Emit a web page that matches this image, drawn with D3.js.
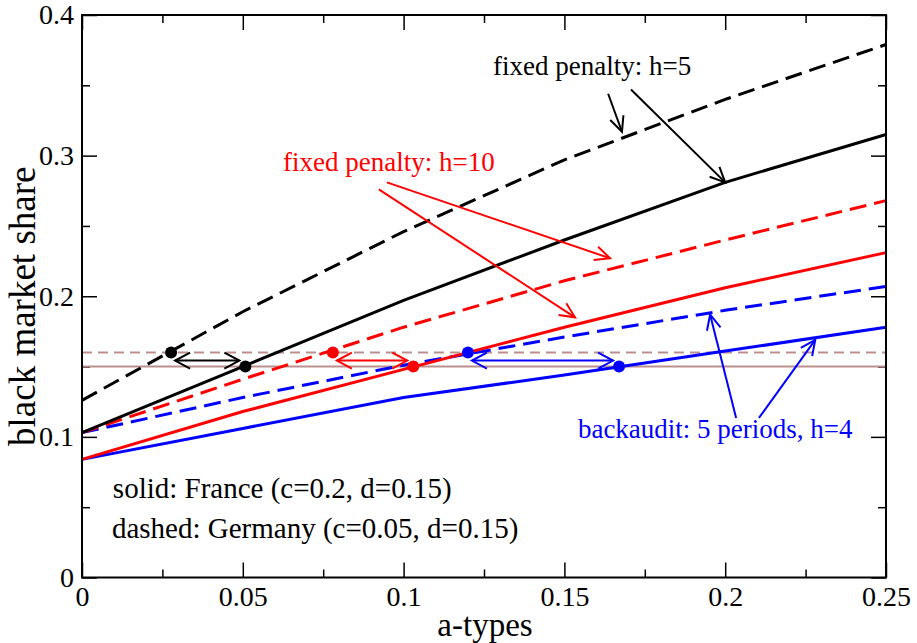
<!DOCTYPE html>
<html>
<head>
<meta charset="utf-8">
<script src="https://cdn.jsdelivr.net/npm/d3@7"></script>
<style>
  body { margin: 0; background: #fff; }
  svg text { font-family: "Liberation Serif", "Times New Roman", serif; }
</style>
</head>
<body>
<div id="chart"></div>
<script>
// a-types sampled every 0.05
var aTypes = [0, 0.05, 0.1, 0.15, 0.2, 0.25];

// black market share per curve
var franceH5 = [0.103, 0.150, 0.197, 0.240, 0.281, 0.315];
var germanyH5 = [0.126, 0.189, 0.246, 0.297, 0.340, 0.379];
var franceH10 = [0.084, 0.118, 0.148, 0.178, 0.206, 0.231];
var germanyH10 = [0.103, 0.141, 0.178, 0.211, 0.240, 0.268];
var franceBack = [0.084, 0.106, 0.128, 0.144, 0.161, 0.178];
var germanyBack = [0.103, 0.128, 0.151, 0.171, 0.190, 0.207];

// reference levels
var levelFrance = 0.15;
var levelGermany = 0.16;

// crossing points [germany a, france a]
var crossH5 = [0.0277, 0.0508];
var crossH10 = [0.078, 0.103];
var crossBack = [0.120, 0.167];

var xTicks = [0, 0.05, 0.1, 0.15, 0.2, 0.25];
var yTicks = [0, 0.1, 0.2, 0.3, 0.4];
var xMinor = [0.025, 0.075, 0.125, 0.175, 0.225];
var yMinor = [0.05, 0.15, 0.25, 0.35];

var width = 917, height = 643;
var plotL = 82, plotR = 886, plotT = 15, plotB = 577.5;

var x = d3.scaleLinear().domain([0, 0.25]).range([plotL, plotR]);
var y = d3.scaleLinear().domain([0, 0.4]).range([plotB, plotT]);

var svg = d3.select("#chart").append("svg")
  .attr("width", width)
  .attr("height", height);

var fmt = function(d) { return d === 0 ? "0" : String(d); };

// ticks, pointing inward on all four sides
function addAxis(axis, tx, ty, major) {
  var g = svg.append("g")
    .attr("transform", "translate(" + tx + "," + ty + ")")
    .call(axis);
  g.select(".domain").remove();
  g.selectAll(".tick line").attr("stroke", "#000").attr("stroke-width", 1.5);
  g.selectAll("text")
    .attr("fill", "#000")
    .style("font-size", major ? "28px" : "0px");
  return g;
}
addAxis(d3.axisBottom(x).tickValues(xTicks).tickSize(-15).tickPadding(9).tickFormat(fmt), 0, plotB, true);
addAxis(d3.axisBottom(x).tickValues(xMinor).tickSize(-8).tickFormat(""), 0, plotB, false);
addAxis(d3.axisTop(x).tickValues(xTicks).tickSize(-15).tickFormat(""), 0, plotT, false);
addAxis(d3.axisTop(x).tickValues(xMinor).tickSize(-8).tickFormat(""), 0, plotT, false);
addAxis(d3.axisLeft(y).tickValues(yTicks).tickSize(-15).tickPadding(8).tickFormat(fmt), plotL, 0, true);
addAxis(d3.axisLeft(y).tickValues(yMinor).tickSize(-8).tickFormat(""), plotL, 0, false);
addAxis(d3.axisRight(y).tickValues(yTicks).tickSize(-15).tickFormat(""), plotR, 0, false);
addAxis(d3.axisRight(y).tickValues(yMinor).tickSize(-8).tickFormat(""), plotR, 0, false);

// reference lines
svg.append("line")
  .attr("x1", x(0)).attr("x2", x(0.25))
  .attr("y1", y(levelGermany)).attr("y2", y(levelGermany))
  .attr("stroke", "#bc8f8f").attr("stroke-width", 2)
  .attr("stroke-dasharray", "10,6");
svg.append("line")
  .attr("x1", x(0)).attr("x2", x(0.25))
  .attr("y1", y(levelFrance)).attr("y2", y(levelFrance))
  .attr("stroke", "#bc8f8f").attr("stroke-width", 2);

// curves
var line = d3.line()
  .x(function(d, i) { return x(aTypes[i]); })
  .y(function(d) { return y(d); });

var curves = [
  {values: germanyBack, color: "#0000ff", dashed: true},
  {values: franceBack, color: "#0000ff", dashed: false},
  {values: germanyH10, color: "#ff0000", dashed: true},
  {values: franceH10, color: "#ff0000", dashed: false},
  {values: germanyH5, color: "#000", dashed: true},
  {values: franceH5, color: "#000", dashed: false}
];

svg.selectAll(".curve")
  .data(curves)
  .enter()
  .append("path")
  .attr("class", "curve")
  .attr("d", function(d) { return line(d.values); })
  .attr("fill", "none")
  .attr("stroke", function(d) { return d.color; })
  .attr("stroke-width", 3)
  .attr("stroke-dasharray", function(d) { return d.dashed ? "17,8" : null; });

// open arrow head as a V
function arrowHead(g, x1, y1, x2, y2, color, len, half) {
  var ang = Math.atan2(y2 - y1, x2 - x1);
  var bx = x2 - len * Math.cos(ang), by = y2 - len * Math.sin(ang);
  var px = -Math.sin(ang) * half, py = Math.cos(ang) * half;
  g.append("path")
    .attr("d", "M" + (bx + px) + "," + (by + py) + "L" + x2 + "," + y2 + "L" + (bx - px) + "," + (by - py))
    .attr("fill", "none")
    .attr("stroke", color)
    .attr("stroke-width", 2);
}

function arrow(a1, v1, a2, v2, color) {
  var g = svg.append("g");
  var x1 = x(a1), y1 = y(v1), x2 = x(a2), y2 = y(v2);
  g.append("line")
    .attr("x1", x1).attr("y1", y1).attr("x2", x2).attr("y2", y2)
    .attr("stroke", color).attr("stroke-width", 2);
  arrowHead(g, x1, y1, x2, y2, color, 15, 7);
}

// double arrows between the crossing points
var crossings = [
  {pts: crossH5, color: "#000"},
  {pts: crossH10, color: "#ff0000"},
  {pts: crossBack, color: "#0000ff"}
];
var midLevel = (levelFrance + levelGermany) / 2;
crossings.forEach(function(c) {
  var g = svg.append("g");
  var x1 = x(c.pts[0]) + 4, x2 = x(c.pts[1]) - 6, yy = y(midLevel) + 1;
  g.append("line")
    .attr("x1", x1).attr("x2", x2).attr("y1", yy).attr("y2", yy)
    .attr("stroke", c.color).attr("stroke-width", 2);
  arrowHead(g, x2, yy, x1, yy, c.color, 15, 8);
  arrowHead(g, x1, yy, x2, yy, c.color, 15, 8);
  g.append("circle").attr("cx", x(c.pts[0])).attr("cy", y(levelGermany)).attr("r", 6).attr("fill", c.color);
  g.append("circle").attr("cx", x(c.pts[1])).attr("cy", y(levelFrance)).attr("r", 6).attr("fill", c.color);
});

// annotation arrows
arrow(0.1636, 0.344, 0.1679, 0.317, "#000");
arrow(0.1707, 0.347, 0.2, 0.281, "#000");
arrow(0.0948, 0.281, 0.1642, 0.227, "#ff0000");
arrow(0.0923, 0.276, 0.1533, 0.185, "#ff0000");
arrow(0.2034, 0.1135, 0.1953, 0.187, "#0000ff");
arrow(0.2105, 0.1135, 0.228, 0.169, "#0000ff");

// annotation texts
var notes = [
  {a: 0.1278, v: 0.3575, text: "fixed penalty: h=5", color: "#000", size: 27},
  {a: 0.0625, v: 0.289, text: "fixed penalty: h=10", color: "#ff0000", size: 27},
  {a: 0.1542, v: 0.0992, text: "backaudit: 5 periods, h=4", color: "#0000ff", size: 27},
  {a: 0.0096, v: 0.0566, text: "solid: France (c=0.2, d=0.15)", color: "#000", size: 29},
  {a: 0.0093, v: 0.0281, text: "dashed: Germany (c=0.05, d=0.15)", color: "#000", size: 29}
];
svg.selectAll(".note")
  .data(notes)
  .enter()
  .append("text")
  .attr("class", "note")
  .attr("x", function(d) { return x(d.a); })
  .attr("y", function(d) { return y(d.v); })
  .attr("fill", function(d) { return d.color; })
  .style("font-size", function(d) { return d.size + "px"; })
  .text(function(d) { return d.text; });

// frame
svg.append("rect")
  .attr("x", plotL).attr("y", plotT)
  .attr("width", plotR - plotL).attr("height", plotB - plotT)
  .attr("fill", "none").attr("stroke", "#000").attr("stroke-width", 2);

// axis titles
svg.append("text")
  .attr("x", (plotL + plotR) / 2 + 1)
  .attr("y", 636)
  .attr("text-anchor", "middle")
  .style("font-size", "33px")
  .text("a-types");

svg.append("text")
  .attr("transform", "translate(35," + ((plotT + plotB) / 2 + 10) + ") rotate(-90)")
  .attr("text-anchor", "middle")
  .style("font-size", "37px")
  .text("black market share");
</script>
</body>
</html>
